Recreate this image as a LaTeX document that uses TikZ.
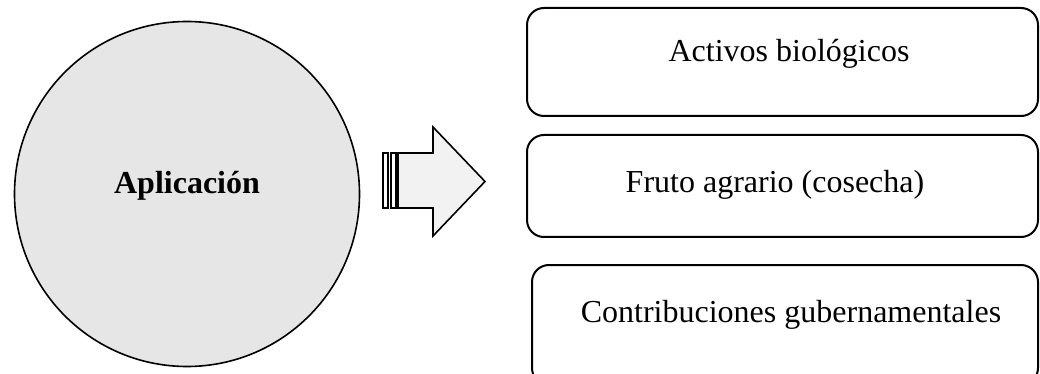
\documentclass[tikz,border=0pt]{standalone}
\usepackage{fontspec}
\setmainfont{Liberation Serif}
\definecolor{circfill}{HTML}{E6E6E6}
\definecolor{arrfill}{HTML}{F2F2F2}
\tikzset{
  box/.style={draw=black, line width=1pt, rounded corners=8.5pt, inner sep=0pt, fill=white},
  lbl/.style={anchor=base, inner sep=0pt, font=\fontsize{16}{19}\selectfont},
  arrowshape/.style={draw=black, line width=0.8pt, fill=arrfill, line join=miter},
  stripe/.style={draw=black, line width=0.8pt, fill=white}
}
\begin{document}
\begin{tikzpicture}[x=0.5pt,y=-0.5pt]
\useasboundingbox (0,0) rectangle (1040,374);
% circle
\node[circle, draw=black, line width=0.8pt, fill=circfill, minimum size=172.5pt, inner sep=0pt] (app) at (187,194) {};
\node[lbl, font=\fontsize{16}{19}\selectfont\bfseries] (apptxt) at (187,193) {Aplicación};
% striped arrow
\draw[stripe] (383,153) rectangle (388,208);
\draw[stripe] (391,153) rectangle (396,208);
\draw[arrowshape] (398,153) -- (433,153) -- (433,127) -- (485,181.5) -- (433,236) -- (433,208) -- (398,208) -- cycle;
% boxes
\node[box, minimum width=255.5pt, minimum height=54pt] (b1) at (782.5,62) {};
\node[box, minimum width=255.5pt, minimum height=51pt] (b2) at (782.5,186) {};
\node[box, minimum width=253pt, minimum height=60pt] (b3) at (785,325) {};
\node[lbl] (t1) at (789,62) {Activos biológicos};
\node[lbl] (t2) at (775,192) {Fruto agrario (cosecha)};
\node[lbl] (t3) at (791,322) {Contribuciones gubernamentales};
\end{tikzpicture}
\end{document}
